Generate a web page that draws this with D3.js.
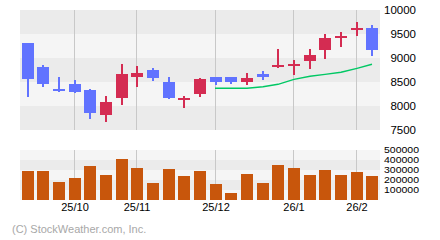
<!DOCTYPE html>
<html>
<head>
<meta charset="utf-8">
<script src="https://cdn.jsdelivr.net/npm/d3@7"></script>
<style>
  body { margin: 0; background: #fff; }
  svg { display: block; }
  text { font-family: "Liberation Sans", Arial, sans-serif; }
</style>
</head>
<body>
<script>

// weekly candles, Sep 2025 - Feb 2026
let weeks = ["09/08", "09/15", "09/22", "09/29", "10/06", "10/13", "10/20", "10/27",
    "11/03", "11/10", "11/17", "11/24", "12/01", "12/08", "12/15", "12/22", "12/29",
    "01/05", "01/12", "01/19", "01/26", "02/02", "02/09"];
let open  = [9312, 8813, 8360, 8458, 8333, 7813, 8167, 8604, 8750, 8500, 8150, 8250, 8604,
    8604, 8500, 8667, 8840, 8875, 8938, 9167, 9417, 9583, 9625];
let high  = [9312, 8854, 8604, 8542, 8354, 8208, 8875, 8833, 8792, 8604, 8208, 8583, 8604,
    8604, 8688, 8729, 9188, 8958, 9188, 9500, 9542, 9750, 9688];
let low   = [8187, 8396, 8292, 8271, 7729, 7667, 8021, 8396, 8521, 8146, 7958, 8188, 8438,
    8458, 8438, 8542, 8792, 8646, 8771, 8979, 9229, 9458, 9042];
let close = [8563, 8458, 8340, 8292, 7854, 8083, 8667, 8688, 8583, 8167, 8165, 8563, 8500,
    8500, 8583, 8604, 8855, 8885, 9063, 9417, 9458, 9625, 9167];
let volume = [290000, 290000, 180000, 220000, 340000, 250000, 410000, 320000, 170000,
    310000, 240000, 290000, 160000, 70000, 260000, 170000, 350000, 320000, 250000,
    300000, 250000, 280000, 240000];
// moving average, only from week 13 on
let maWeeks = ["12/01", "12/08", "12/15", "12/22", "12/29", "01/05", "01/12", "01/19",
    "01/26", "02/02", "02/09"];
let maValues = [8369, 8369, 8369, 8402, 8452, 8556, 8619, 8660, 8702, 8785, 8869];

let monthWeeks = ["09/29", "10/27", "12/01", "01/05", "02/02"];
let monthLabels = ["25/10", "25/11", "25/12", "26/1", "26/2"];
let priceTicks = [7500, 8000, 8500, 9000, 9500, 10000];
let volumeTicks = [100000, 200000, 300000, 400000, 500000];

let svg = d3.select("body").append("svg")
    .attr("width", 440)
    .attr("height", 240);

let x = d3.scaleBand().domain(weeks).range([20, 380])
    .paddingInner(0.23).paddingOuter(0.1);
let cx = function (w) { return Math.round(x(w) + x.bandwidth() / 2); };

let y = d3.scaleLinear().domain([7500, 10000]).range([130, 10]);
let yv = d3.scaleLinear().domain([0, 500000]).range([200, 150]);

// background bands
let priceBands = d3.range(7500, 10000, 500);
svg.append("g").selectAll("rect").data(priceBands).enter().append("rect")
    .attr("x", 20).attr("width", 360)
    .attr("y", function (d) { return y(d + 500); })
    .attr("height", function (d) { return y(d) - y(d + 500); })
    .attr("fill", function (d, i) { return i % 2 == 0 ? "#ebebeb" : "#f5f5f5"; });

let volBands = d3.range(0, 500000, 100000);
svg.append("g").selectAll("rect").data(volBands).enter().append("rect")
    .attr("x", 20).attr("width", 360)
    .attr("y", function (d) { return yv(d + 100000); })
    .attr("height", function (d) { return yv(d) - yv(d + 100000); })
    .attr("fill", function (d, i) { return i % 2 == 0 ? "#f5f5f5" : "#ebebeb"; });

// month lines
let grid = svg.append("g").attr("stroke", "#c8c8c8").attr("stroke-width", 1);
grid.selectAll("line.p").data(monthWeeks).enter().append("line")
    .attr("x1", function (d) { return cx(d) - 0.5; })
    .attr("x2", function (d) { return cx(d) - 0.5; })
    .attr("y1", 10).attr("y2", 130);
grid.selectAll("line.v").data(monthWeeks).enter().append("line")
    .attr("x1", function (d) { return cx(d) - 0.5; })
    .attr("x2", function (d) { return cx(d) - 0.5; })
    .attr("y1", 150).attr("y2", 200);

let blue = "#6173ff", red = "#d42c52";
let candles = svg.append("g").selectAll("g").data(weeks).enter().append("g")
    .attr("fill", function (d, i) { return close[i] >= open[i] ? red : blue; })
    .attr("shape-rendering", "crispEdges");

// wicks
candles.append("rect")
    .attr("x", function (d) { return cx(d) - 1; })
    .attr("width", 1.5)
    .attr("y", function (d, i) { return Math.round(y(high[i])); })
    .attr("height", function (d, i) { return Math.round(y(low[i])) - Math.round(y(high[i])); });

// bodies
candles.append("rect")
    .attr("x", function (d) { return cx(d) - 6; })
    .attr("width", 12)
    .attr("y", function (d, i) { return Math.round(y(Math.max(open[i], close[i]))); })
    .attr("height", function (d, i) {
        return Math.max(2, Math.round(y(Math.min(open[i], close[i]))) - Math.round(y(Math.max(open[i], close[i]))));
    });

// moving average
let ma = maWeeks.map(function (w, i) { return [cx(w), y(maValues[i])]; });
ma[0][0] = cx(maWeeks[0]) - 1;
svg.append("path")
    .attr("d", d3.line()(ma))
    .attr("fill", "none")
    .attr("stroke", "#00c864")
    .attr("stroke-width", 1.4);

// volume bars
svg.append("g").selectAll("rect").data(weeks).enter().append("rect")
    .attr("shape-rendering", "crispEdges")
    .attr("x", function (d) { return cx(d) - 6; })
    .attr("width", 12)
    .attr("y", function (d, i) { return Math.round(yv(volume[i])); })
    .attr("height", function (d, i) { return 200 - Math.round(yv(volume[i])); })
    .attr("fill", "#c8560c");

// price axis
let yAxis = svg.append("g").attr("transform", "translate(380,0)")
    .call(d3.axisRight(y).tickValues(priceTicks).tickSize(0).tickFormat(d3.format("d")));
yAxis.select(".domain").remove();
yAxis.selectAll("text").attr("x", 36).attr("text-anchor", "end")
    .attr("font-size", "11.5px").attr("fill", "#000").attr("font-family", "Liberation Sans");

// volume axis (labels sit tight, 10px apart)
let vAxis = svg.append("g").attr("transform", "translate(380,0)")
    .call(d3.axisRight(yv).tickValues(volumeTicks).tickSize(0).tickFormat(d3.format("d")));
vAxis.select(".domain").remove();
vAxis.selectAll("text").attr("x", 39).attr("text-anchor", "end")
    .attr("font-size", "9px").attr("fill", "#000").attr("font-family", "Liberation Sans")
    .attr("textLength", 35).attr("lengthAdjust", "spacingAndGlyphs");

// month labels
svg.append("g").selectAll("text").data(monthWeeks).enter().append("text")
    .attr("x", function (d) { return cx(d); })
    .attr("y", 211)
    .attr("text-anchor", "middle")
    .attr("font-size", "11px")
    .text(function (d, i) { return monthLabels[i]; });

svg.append("text")
    .attr("x", 12).attr("y", 233)
    .attr("font-size", "11px")
    .attr("fill", "#a8a8a8")
    .text("(C) StockWeather.com, Inc.");

</script>
</body>
</html>
